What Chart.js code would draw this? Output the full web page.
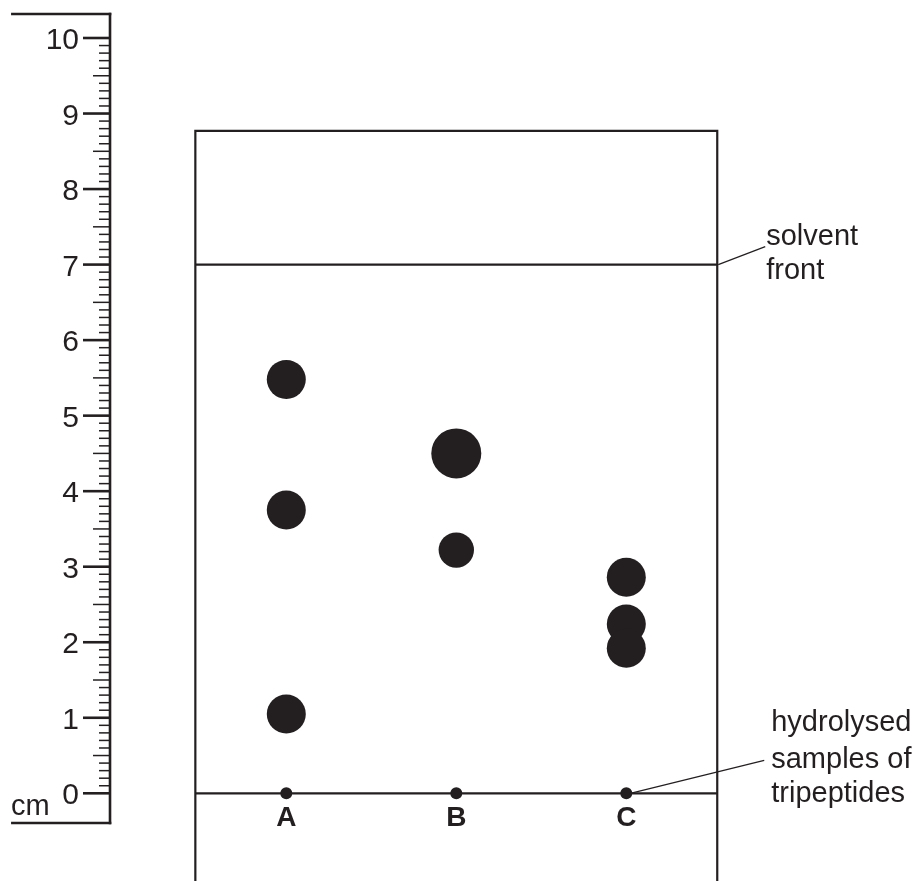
<!DOCTYPE html>
<html>
<head>
<meta charset="utf-8">
<script src="https://cdn.jsdelivr.net/npm/chart.js@4"></script>
<style>
html,body{margin:0;padding:0;background:#fff;overflow:hidden;}
#wrap{width:919px;height:881px;position:relative;}
</style>
</head>
<body>
<div id="wrap"><canvas id="c"></canvas></div>
<script>
// ---- data ----
const lanes = ['A', 'B', 'C'];
const laneIndex = [1, 2, 3];
const spotsA = [5.48, 3.75, 1.05];
const spotsB = [4.50, 3.22];
const spotsC = [2.86, 2.24, 1.92];
const solventFront = 7.0;
const rulerLabels = ['0','1','2','3','4','5','6','7','8','9','10'];
const rulerUnit = 'cm';
const solventLabel = ['solvent', 'front'];
const sampleLabel = ['hydrolysed', 'samples of', 'tripeptides'];

// ---- styles / layout ----
const INK = '#231f20';
const FONT = '"Liberation Sans", Arial, Helvetica, sans-serif';
const spotR = { A: [19.5, 19.5, 19.5], B: [25, 17.7], C: [19.5, 19.5, 19.5] };
const originR = 6;
const layout = {
  boxLeft: 0.465, boxRight: 3.535, boxTop: 8.77,
  rulerEdge: -0.037, rulerStart: -0.619, rulerTop: 10.318, rulerBottom: -0.393,
  yMin: -1.1611, yMax: 10.5031, xMin: -0.6841, xMax: 4.7218
};

function pts(lane, arr){ return arr.map(v => ({x: lane, y: v})); }

const datasets = [
  { label: 'A', data: pts(laneIndex[0], spotsA), pointRadius: spotR.A },
  { label: 'B', data: pts(laneIndex[1], spotsB), pointRadius: spotR.B },
  { label: 'C', data: pts(laneIndex[2], spotsC), pointRadius: spotR.C },
  { label: 'origin', data: laneIndex.map(l => ({x: l, y: 0})), pointRadius: originR }
].map(d => Object.assign(d, {
  backgroundColor: INK, borderWidth: 0, pointBorderWidth: 0,
  pointHoverRadius: d.pointRadius, showLine: false
}));

function line(ctx, x1, y1, x2, y2, w){
  ctx.beginPath(); ctx.lineWidth = w; ctx.moveTo(x1, y1); ctx.lineTo(x2, y2); ctx.stroke();
}

const paper = {
  id: 'paper',
  beforeDatasetsDraw(chart){
    const {ctx, scales: {x, y}} = chart;
    ctx.save();
    ctx.strokeStyle = INK; ctx.fillStyle = INK; ctx.lineCap = 'butt';
    // chromatography paper
    const L = x.getPixelForValue(layout.boxLeft), R = x.getPixelForValue(layout.boxRight);
    const T = y.getPixelForValue(layout.boxTop), B = chart.height;
    ctx.beginPath(); ctx.lineWidth = 2.2;
    ctx.moveTo(L, B); ctx.lineTo(L, T); ctx.lineTo(R, T); ctx.lineTo(R, B); ctx.stroke();
    const yf = y.getPixelForValue(solventFront);
    line(ctx, L, yf, R, yf, 2.2);
    const y0 = y.getPixelForValue(0);
    line(ctx, L, y0, R, y0, 2.2);
    // ruler
    const rx = x.getPixelForValue(layout.rulerEdge), rs = x.getPixelForValue(layout.rulerStart);
    const rt = y.getPixelForValue(layout.rulerTop), rb = y.getPixelForValue(layout.rulerBottom);
    line(ctx, rx, rt - 1.3, rx, rb + 1.3, 2.6);
    line(ctx, rs, rt, rx + 1.3, rt, 2.6);
    line(ctx, rs, rb, rx + 1.3, rb, 2.6);
    for (let i = 0; i <= 100; i++) {
      const py = y.getPixelForValue(i / 10);
      if (i % 10 === 0) line(ctx, rx - 27, py, rx, py, 2.6);
      else if (i % 5 === 0) line(ctx, rx - 17, py, rx, py, 1.5);
      else line(ctx, rx - 11, py, rx, py, 1.5);
    }
    ctx.font = '30px ' + FONT; ctx.textAlign = 'right'; ctx.textBaseline = 'alphabetic';
    rulerLabels.forEach((t, i) => ctx.fillText(t, rx - 31, y.getPixelForValue(i) + 11));
    ctx.font = '29px ' + FONT; ctx.textAlign = 'left';
    ctx.fillText(rulerUnit, rs, y0 + 22);
    // lane labels
    ctx.font = 'bold 28px ' + FONT; ctx.textAlign = 'center'; ctx.textBaseline = 'alphabetic';
    lanes.forEach((t, i) => ctx.fillText(t, x.getPixelForValue(laneIndex[i]), y0 + 33));
    // solvent front leader + text
    line(ctx, R + 1, yf, R + 48, yf - 18, 1.2);
    ctx.font = '29px ' + FONT; ctx.textAlign = 'left'; ctx.textBaseline = 'alphabetic';
    ctx.fillText(solventLabel[0], R + 49, yf - 20);
    ctx.fillText(solventLabel[1], R + 49, yf + 14);
    // sample leader + text
    const cx = x.getPixelForValue(laneIndex[2]);
    line(ctx, cx + 4, y0, R + 47, y0 - 33, 1.2);
    ctx.fillText(sampleLabel[0], R + 54, y0 - 62);
    ctx.fillText(sampleLabel[1], R + 54, y0 - 25);
    ctx.fillText(sampleLabel[2], R + 54, y0 + 9);
    ctx.restore();
  }
};

new Chart(document.getElementById('c'), {
  type: 'scatter',
  data: { datasets },
  options: {
    responsive: true, maintainAspectRatio: false, animation: false,
    layout: { padding: 0, autoPadding: false },
    plugins: { legend: { display: false }, tooltip: { enabled: false } },
    events: [],
    scales: {
      x: { type: 'linear', min: layout.xMin, max: layout.xMax, display: false },
      y: { type: 'linear', min: layout.yMin, max: layout.yMax, display: false }
    }
  },
  plugins: [paper]
});
</script>
</body>
</html>
